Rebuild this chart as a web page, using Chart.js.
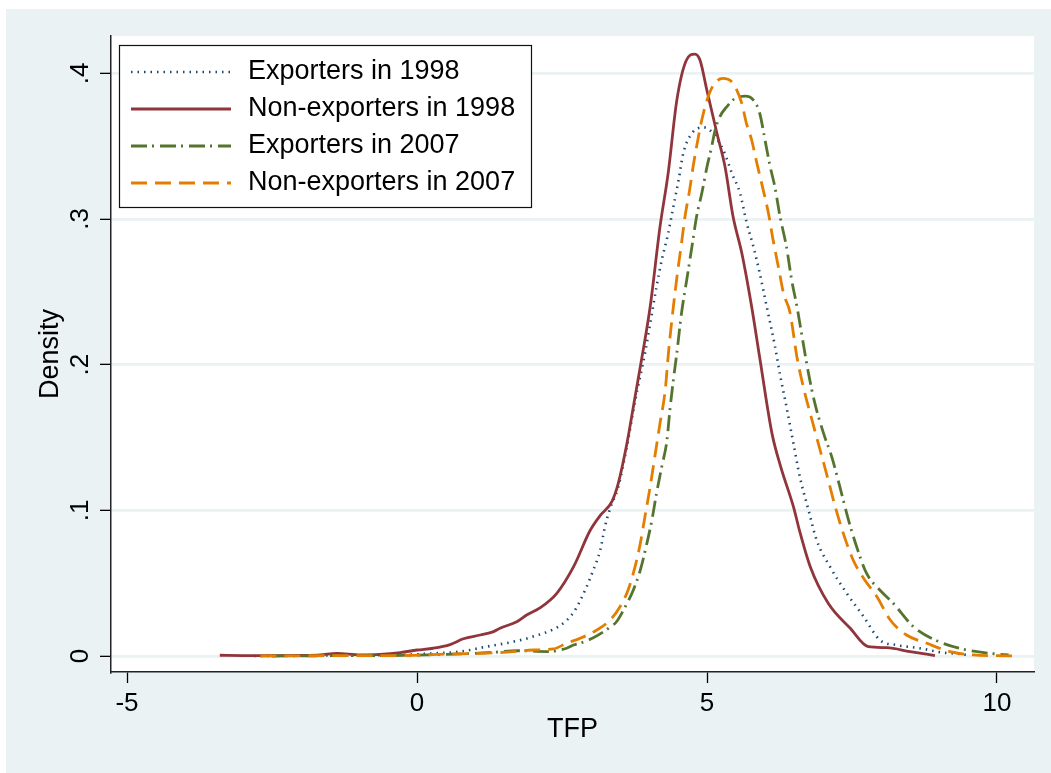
<!DOCTYPE html>
<html>
<head>
<meta charset="utf-8">
<title>TFP density</title>
<script src="https://cdn.jsdelivr.net/npm/chart.js@4.4.1/dist/chart.umd.min.js"></script>
<style>
  html, body { margin: 0; padding: 0; background: #fff; }
  canvas { display: block; }
</style>
</head>
<body>
<canvas id="chart" width="1051" height="773"></canvas>
<script>
// values
const exp98X = [-2.8, -2.0, -1.0, -0.29, 0.28, 0.74, 1.2, 1.66, 2.0, 2.47, 2.7, 2.9, 3.04, 3.16, 3.24, 3.33, 3.47, 3.62, 3.76, 3.93, 4.05, 4.13, 4.22, 4.33, 4.42, 4.51, 4.59, 4.74, 4.94, 5.05, 5.28, 5.43, 5.57, 5.68, 5.8, 5.91, 6.03, 6.17, 6.26, 6.37, 6.49, 6.6, 6.75, 6.89, 7.12, 7.41, 7.7, 7.98, 8.27, 8.67, 9.07, 9.36, 9.5];
const exp98Y = [0, 0.0002, 0.0004, 0.0007, 0.0018, 0.003, 0.0064, 0.0098, 0.0133, 0.021, 0.03, 0.0453, 0.059, 0.0728, 0.0887, 0.1013, 0.116, 0.144, 0.175, 0.2078, 0.2352, 0.2535, 0.2718, 0.29, 0.3084, 0.3267, 0.345, 0.3588, 0.3629, 0.361, 0.3473, 0.3313, 0.3176, 0.2981, 0.2809, 0.2627, 0.2397, 0.213, 0.193, 0.1711, 0.146, 0.1231, 0.1002, 0.0796, 0.0613, 0.043, 0.027, 0.011, 0.0075, 0.0053, 0.0023, 0.0014, 0.0005];

const nonEx98X = [-3.4, -3.0, -2.5, -2.0, -1.67, -1.38, -0.98, -0.64, -0.29, 0.0, 0.28, 0.57, 0.8, 1.09, 1.32, 1.43, 1.72, 1.89, 2.12, 2.41, 2.7, 2.98, 3.16, 3.36, 3.47, 3.62, 3.76, 3.9, 4.02, 4.19, 4.33, 4.48, 4.64, 4.79, 4.88, 5.0, 5.17, 5.31, 5.45, 5.6, 5.77, 5.91, 6.12, 6.27, 6.49, 6.6, 6.78, 7.09, 7.47, 7.78, 8.1, 8.5, 8.93];
const nonEx98Y = [0.0005, 0.0003, 0.0002, 0.0004, 0.0008, 0.0018, 0.0008, 0.0011, 0.0023, 0.0041, 0.0053, 0.0078, 0.0118, 0.0144, 0.0167, 0.019, 0.0235, 0.0281, 0.033, 0.043, 0.0613, 0.0858, 0.0965, 0.106, 0.1185, 0.146, 0.178, 0.21, 0.2397, 0.2947, 0.3313, 0.3816, 0.4086, 0.4132, 0.409, 0.388, 0.359, 0.336, 0.3015, 0.2766, 0.2397, 0.2045, 0.1528, 0.13, 0.1025, 0.0853, 0.0613, 0.0362, 0.019, 0.0064, 0.0057, 0.003, 0.0003];

const exp07X = [-2.5, -1.5, -0.5, 0.28, 0.8, 1.32, 1.72, 2.24, 2.58, 2.7, 2.81, 3.04, 3.3, 3.44, 3.59, 3.73, 3.85, 3.95, 4.05, 4.13, 4.22, 4.31, 4.36, 4.42, 4.48, 4.56, 4.65, 4.74, 4.82, 4.91, 5.0, 5.08, 5.14, 5.22, 5.34, 5.51, 5.66, 5.8, 5.91, 6.0, 6.09, 6.17, 6.26, 6.37, 6.46, 6.55, 6.63, 6.75, 6.86, 7.01, 7.15, 7.29, 7.44, 7.58, 7.75, 7.98, 8.21, 8.56, 8.96, 9.48, 9.99, 10.2];
const exp07Y = [0, 0.0002, 0.0003, 0.0009, 0.0015, 0.0025, 0.0036, 0.003, 0.0053, 0.0075, 0.0087, 0.0125, 0.019, 0.0235, 0.0338, 0.0453, 0.059, 0.075, 0.0933, 0.1117, 0.1299, 0.1482, 0.1688, 0.1894, 0.208, 0.2352, 0.2581, 0.2809, 0.3015, 0.3176, 0.3358, 0.3496, 0.361, 0.3701, 0.377, 0.3834, 0.3843, 0.3816, 0.3724, 0.3542, 0.3358, 0.3221, 0.3015, 0.2809, 0.2581, 0.24, 0.2215, 0.194, 0.1734, 0.1528, 0.1368, 0.1162, 0.0933, 0.075, 0.0568, 0.0453, 0.0362, 0.0201, 0.0105, 0.0041, 0.0014, 0.0008];

const nonEx07X = [-2.7, -1.5, -0.29, 0.57, 1.43, 2.0, 2.35, 2.58, 2.81, 3.1, 3.33, 3.5, 3.64, 3.76, 3.85, 3.93, 4.02, 4.1, 4.19, 4.28, 4.34, 4.42, 4.49, 4.56, 4.62, 4.7, 4.76, 4.82, 4.91, 5.0, 5.11, 5.27, 5.45, 5.6, 5.68, 5.77, 5.86, 5.97, 6.06, 6.14, 6.23, 6.32, 6.43, 6.55, 6.66, 6.81, 6.95, 7.09, 7.21, 7.35, 7.52, 7.72, 7.93, 8.16, 8.44, 8.79, 9.19, 9.59, 10.0, 10.34];
const nonEx07Y = [0, 0.0002, 0.0003, 0.0014, 0.0023, 0.0041, 0.0048, 0.0087, 0.0121, 0.0178, 0.0247, 0.0338, 0.0453, 0.0613, 0.0773, 0.0956, 0.1162, 0.1368, 0.1597, 0.1826, 0.21, 0.2397, 0.2627, 0.2832, 0.3015, 0.3198, 0.3358, 0.3496, 0.3679, 0.3816, 0.3919, 0.3965, 0.393, 0.3793, 0.3656, 0.3542, 0.3382, 0.3198, 0.3038, 0.2855, 0.2672, 0.2489, 0.236, 0.2054, 0.1848, 0.162, 0.1414, 0.1208, 0.1025, 0.0842, 0.0659, 0.0522, 0.0407, 0.0247, 0.0144, 0.0087, 0.003, 0.0007, 0.0002, 0];

const xTicks = [-5, 0, 5, 10];
const yTicks = [0, 0.1, 0.2, 0.3, 0.4];
const yTickLabels = ["0", ".1", ".2", ".3", ".4"];

const FONT = "'Liberation Sans', Arial, sans-serif";
Chart.defaults.font.family = FONT;
Chart.defaults.color = "#000";

function pairs(xs, ys) {
  return xs.map((x, i) => ({ x: x, y: ys[i] }));
}

// stata-ish backgrounds
const backdrop = {
  id: "backdrop",
  beforeDraw(chart) {
    const ctx = chart.ctx;
    const a = chart.chartArea;
    ctx.save();
    ctx.fillStyle = "#fff";
    ctx.fillRect(0, 0, chart.width, chart.height);
    ctx.fillStyle = "#EAF2F3";
    ctx.fillRect(6, 9, chart.width - 6, chart.height - 9);
    ctx.fillStyle = "#fff";
    ctx.fillRect(a.left, a.top, a.right - a.left, a.bottom - a.top);
    ctx.restore();
  },
};

// rotated y tick labels
const yLabels = {
  id: "yLabels",
  afterDraw(chart) {
    const ctx = chart.ctx;
    const yScale = chart.scales.y;
    ctx.save();
    ctx.fillStyle = "#000";
    ctx.font = "26px " + FONT;
    ctx.textAlign = "center";
    ctx.textBaseline = "middle";
    yTicks.forEach((v, i) => {
      const py = yScale.getPixelForValue(v);
      ctx.save();
      ctx.translate(81, py);
      ctx.rotate(-Math.PI / 2);
      ctx.fillText(yTickLabels[i], 0, 0);
      ctx.restore();
    });
    ctx.restore();
  },
};

// boxed legend in the top left corner
const boxLegend = {
  id: "boxLegend",
  afterDatasetsDraw(chart) {
    const ctx = chart.ctx;
    ctx.save();
    ctx.fillStyle = "#fff";
    ctx.fillRect(119, 45, 412, 162);
    ctx.strokeStyle = "#111";
    ctx.lineWidth = 1.2;
    ctx.strokeRect(119.5, 45.5, 412, 162);
    chart.data.datasets.forEach((ds, i) => {
      const y = 72 + i * 37;
      ctx.beginPath();
      ctx.setLineDash(ds.borderDash || []);
      ctx.strokeStyle = ds.borderColor;
      ctx.lineWidth = ds.borderWidth;
      ctx.lineCap = "butt";
      ctx.moveTo(131, y);
      ctx.lineTo(231, y);
      ctx.stroke();
      ctx.setLineDash([]);
      ctx.fillStyle = "#000";
      ctx.font = "27px " + FONT;
      ctx.textBaseline = "middle";
      ctx.fillText(ds.label, 248, y);
    });
    ctx.restore();
  },
};

const chart = document.querySelector("#chart").getContext("2d");

new Chart(chart, {
  type: "line",
  data: {
    datasets: [
      {
        label: "Exporters in 1998",
        data: pairs(exp98X, exp98Y),
        borderColor: "#1A476F",
        borderWidth: 2.6,
        borderDash: [1.5, 5],
        order: 3,
      },
      {
        label: "Non-exporters in 1998",
        data: pairs(nonEx98X, nonEx98Y),
        borderColor: "#90353B",
        borderWidth: 2.8,
        order: 2,
      },
      {
        label: "Exporters in 2007",
        data: pairs(exp07X, exp07Y),
        borderColor: "#55752F",
        borderWidth: 2.8,
        borderDash: [16, 5, 2, 6],
        order: 1,
      },
      {
        label: "Non-exporters in 2007",
        data: pairs(nonEx07X, nonEx07Y),
        borderColor: "#E37E00",
        borderWidth: 2.8,
        borderDash: [16, 8],
        order: 0,
      },
    ],
  },
  options: {
    responsive: false,
    animation: false,
    devicePixelRatio: 1,
    layout: { padding: { top: 36, right: 17, left: 0, bottom: 0 } },
    elements: {
      point: { radius: 0 },
      line: { cubicInterpolationMode: "monotone", borderCapStyle: "butt", fill: false },
    },
    plugins: { legend: { display: false }, tooltip: { enabled: false } },
    scales: {
      x: {
        type: "linear",
        min: -5.276,
        max: 10.638,
        afterBuildTicks: (s) => { s.ticks = xTicks.map((v) => ({ value: v })); },
        afterFit: (s) => { s.height = 101; },
        grid: {
          drawOnChartArea: false,
          tickColor: "#000",
          tickLength: 11,
          tickWidth: 1.3,
        },
        border: { color: "#222", width: 1.5 },
        ticks: { font: { size: 26 }, padding: 5, maxRotation: 0, color: "#000" },
        title: {
          display: true,
          text: "TFP",
          font: { size: 27 },
          color: "#000",
          padding: { top: 0, bottom: 27 },
        },
      },
      y: {
        type: "linear",
        min: -0.011,
        max: 0.4256,
        afterBuildTicks: (s) => { s.ticks = yTicks.map((v) => ({ value: v })); },
        afterFit: (s) => { s.width = 111; },
        grid: {
          color: "#EAF2F3",
          lineWidth: 2.7,
          tickColor: "#000",
          tickLength: 11,
          tickWidth: 1.3,
        },
        border: { color: "#222", width: 1.5 },
        ticks: { display: false },
        title: {
          display: true,
          text: "Density",
          font: { size: 27 },
          color: "#000",
          padding: { top: 34, bottom: 0 },
        },
      },
    },
  },
  plugins: [backdrop, yLabels, boxLegend],
});
</script>
</body>
</html>
